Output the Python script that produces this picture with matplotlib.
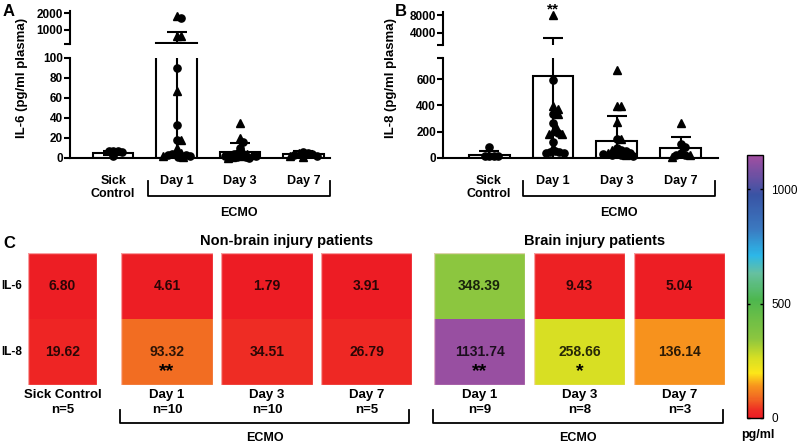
import matplotlib.pyplot as plt
import numpy as np
from matplotlib.colors import LinearSegmentedColormap, Normalize
from matplotlib.cm import ScalarMappable
from matplotlib.lines import Line2D
from matplotlib.patches import Rectangle

plt.rcParams['font.family'] = ['Liberation Sans', 'DejaVu Sans']
plt.rcParams['font.weight'] = 'bold'

# ---- data -------------------------------------------------------------
groups = ['Sick\nControl', 'Day 1', 'Day 3', 'Day 7']

# panel A, IL-6 (pg/ml plasma); circles = non-brain injury, triangles = brain injury
il6_mean = [5.5, 235, 6, 4]
il6_sd = [2, 645, 9, 3]
il6_circles = [[7, 7, 2, 6, 7],
               [1700, 90, 33, 18, 5, 4, 3, 3, 2, 1],
               [16, 10, 5, 4, 3, 2, 2, 1, 1, 0.5],
               [6, 5, 4, 3, 2]]
il6_triangles = [[],
                 [1800, 650, 650, 67, 18, 10, 5, 2, 1],
                 [35, 20, 6, 4, 3, 2, 1, 0.5],
                 [5, 2, 1]]

# panel B, IL-8 (pg/ml plasma)
il8_mean = [25, 625, 132, 76]
il8_sd = [30, 2275, 188, 86]
il8_circles = [[80, 15, 12, 15, 12],
               [590, 335, 264, 187, 125, 45, 40, 45, 50, 40],
               [145, 76, 60, 50, 40, 35, 30, 25, 20, 15],
               [106, 81, 35, 25, 20]]
il8_triangles = [[],
                 [8000, 392, 376, 335, 238, 202, 179, 179, 84],
                 [670, 395, 395, 276, 145, 60, 40, 20],
                 [268, 20, 10]]

# panel C, mean pg/ml
c_labels = ['Sick Control', 'Day 1', 'Day 3', 'Day 7', 'Day 1', 'Day 3', 'Day 7']
c_n = [5, 10, 10, 5, 9, 8, 3]
c_il6 = [6.80, 4.61, 1.79, 3.91, 348.39, 9.43, 5.04]
c_il8 = [19.62, 93.32, 34.51, 26.79, 1131.74, 258.66, 136.14]
c_il8_sig = ['', '**', '', '', '**', '*', '']

W, H = 800, 445
fig = plt.figure(figsize=(W / 100, H / 100), dpi=100)


def rect(l, t, r, b):
    return [l / W, 1 - b / H, (r - l) / W, (b - t) / H]


def fig_line(xs, ys, lw=1.3):
    fig.add_artist(Line2D([x / W for x in xs], [1 - y / H for y in ys],
                          transform=fig.transFigure, color='black', lw=lw))


def swarm(ax, xc, ys, step=1.5, mind=4.5, maxoff=17):
    # simple beeswarm in pixel space, overlap allowed once the bar width is used up
    pts = ax.transData.transform(np.column_stack([np.full(len(ys), xc), ys]))
    placed = []
    offs = [0.0]
    k = 1
    while k * step <= maxoff:
        offs += [k * step, -k * step]
        k += 1
    for px, py in pts:
        best, bestd = px, -1
        for off in offs:
            cand = px + off
            d = min([np.hypot(cand - qx, py - qy) for qx, qy in placed] or [99])
            if d >= mind:
                best = cand
                break
            if d > bestd:
                best, bestd = cand, d
        placed.append((best, py))
    return ax.transData.inverted().transform(np.array(placed))[:, 0]


def bar_panel(lo_rect, hi_rect, lo_lim, hi_lim, lo_ticks, hi_ticks, xlim,
              means, sds, circles, triangles, ylabel, ylabel_x):
    lo = fig.add_axes(rect(*lo_rect))
    hi = fig.add_axes(rect(*hi_rect))
    x = np.arange(len(groups))
    for ax, lim in ((lo, lo_lim), (hi, hi_lim)):
        ax.bar(x, means, width=0.64, color='white', edgecolor='black', lw=1.5, zorder=1)
        ax.errorbar(x, means, yerr=sds, fmt='none', ecolor='black', elinewidth=1.5,
                    capsize=7, capthick=1.5, zorder=2)
        ax.set_xlim(*xlim)
        ax.set_ylim(*lim)
        for s in ('top', 'right'):
            ax.spines[s].set_visible(False)
        ax.spines['left'].set_linewidth(1.5)
        ax.spines['bottom'].set_linewidth(1.5)
        ax.tick_params(axis='y', width=1.5, length=4, labelsize=8.5, pad=1)
    hi.spines['bottom'].set_visible(False)
    hi.set_xticks([])
    lo.set_yticks(lo_ticks)
    hi.set_yticks(hi_ticks)
    hi.set_yticks([hi_lim[0]], minor=True)
    lo.set_yticks([lo_lim[1]], minor=True)
    for ax in (lo, hi):
        ax.tick_params(axis='y', which='minor', width=1.5, length=4)
    lo.set_xticks(x)
    lo.set_xticklabels(groups, fontsize=9, linespacing=1.15)
    lo.tick_params(axis='x', length=0, pad=12)

    split = lo_lim[1]
    for i in range(len(groups)):
        vals = [(v, 'o') for v in circles[i]] + [(v, '^') for v in triangles[i]]
        vals.sort(key=lambda t: -t[0])
        for ax, sel in ((lo, [t for t in vals if t[0] <= split]),
                        (hi, [t for t in vals if t[0] > split])):
            if not sel:
                continue
            ys = [t[0] for t in sel]
            xs = swarm(ax, i, ys)
            for xx, (yy, m) in zip(xs, sel):
                ax.plot(xx, yy, marker=m, color='black', ms=5.2, ls='none',
                        clip_on=False, zorder=3)
    fig.text(ylabel_x / W, 1 - 78 / H, ylabel, rotation=90, ha='center', va='center',
             fontsize=9.5)
    return lo, hi


loA, hiA = bar_panel((70, 58, 330, 158), (70, 11, 330, 44), (0, 100), (176, 2118),
                     [0, 20, 40, 60, 80, 100], [1000, 2000], (-0.68, 3.42),
                     il6_mean, il6_sd, il6_circles, il6_triangles,
                     'IL-6 (pg/ml plasma)', 22)
loB, hiB = bar_panel((443, 58, 718, 158), (443, 12, 718, 45), (0, 760), (1333, 8667),
                     [0, 200, 400, 600], [4000, 8000], (-0.72, 3.58),
                     il8_mean, il8_sd, il8_circles, il8_triangles,
                     'IL-8 (pg/ml plasma)', 391)
hiB.text(1, 0.97, '**', transform=hiB.get_xaxis_transform(), ha='center',
         va='baseline', fontsize=11)

# ECMO brackets for A and B
for ax, x0, x1 in ((loA, 0.55, 3.42), (loB, 0.53, 3.53)):
    tr = ax.get_xaxis_transform()
    ax.plot([x0, x0, x1, x1], [-0.23, -0.38, -0.38, -0.23], color='black', lw=1.3,
            transform=tr, clip_on=False)
    ax.text((x0 + x1) / 2, -0.55, 'ECMO', transform=tr, ha='center', va='center',
            fontsize=9)

fig.text(9 / W, 1 - 12 / H, 'A', fontsize=12, ha='center', va='center')
fig.text(401 / W, 1 - 11 / H, 'B', fontsize=12, ha='center', va='center')
fig.text(9 / W, 1 - 244 / H, 'C', fontsize=12, ha='center', va='center')

# ---- panel C heat map ------------------------------------------------
cmap = LinearSegmentedColormap.from_list('pgml', [
    (0.00, '#ed1c24'), (0.03, '#ee2e24'), (0.08, '#f26f22'), (0.12, '#f7941d'),
    (0.17, '#fde619'), (0.225, '#d7df23'), (0.30, '#8dc63f'), (0.45, '#4db74e'),
    (0.55, '#66c0a0'), (0.62, '#2cb7e8'), (0.72, '#3b79c0'), (0.85, '#3953a4'),
    (1.00, '#a34ea1')])
norm = Normalize(0, 1150)

box_left = [28, 121, 221, 321, 434, 534, 634]
box_w = [69, 92, 92, 91, 91, 91, 91]
box_top, box_bot = 253, 385
for i in range(len(c_labels)):
    ax = fig.add_axes(rect(box_left[i], box_top, box_left[i] + box_w[i], box_bot))
    vals = np.array([[c_il6[i]], [c_il8[i]]])
    ax.pcolormesh(vals, cmap=cmap, norm=norm, linewidth=0)
    ax.add_patch(Rectangle((0, 0), 1, 2, fill=False, edgecolor=(1, 0.85, 0.85, 0.7), lw=1))
    ax.set_ylim(2, 0)
    ax.axis('off')
    for r, v in enumerate((c_il6[i], c_il8[i])):
        tc = np.array(cmap(norm(v))[:3]) * 0.18
        ax.text(0.5, r + 0.5, f'{v:.2f}', ha='center', va='center', fontsize=10,
                color=tc)
    if c_il8_sig[i]:
        ax.text(0.5, 1.8, c_il8_sig[i], ha='center', va='center', fontsize=14,
                color='black')
    cx = (box_left[i] + box_w[i] / 2) / W
    fig.text(cx, 1 - 395 / H, c_labels[i], ha='center', va='center', fontsize=9.5)
    fig.text(cx, 1 - 410 / H, f'n={c_n[i]}', ha='center', va='center', fontsize=9.5)

fig.text(1 / W, 1 - 286 / H, 'IL-6', ha='left', va='center', fontsize=8.5)
fig.text(1 / W, 1 - 352 / H, 'IL-8', ha='left', va='center', fontsize=8.5)
fig.text(287 / W, 1 - 241 / H, 'Non-brain injury patients', ha='center', va='center',
         fontsize=10.5)
fig.text(595 / W, 1 - 241 / H, 'Brain injury patients', ha='center', va='center',
         fontsize=10.5)

for x0, x1 in ((120, 409), (433, 723)):
    fig_line([x0, x0, x1, x1], [410, 423, 423, 410])
    fig.text((x0 + x1) / 2 / W, 1 - 438 / H, 'ECMO', ha='center', va='center', fontsize=9)

cax = fig.add_axes(rect(747, 155, 763, 418))
cb = fig.colorbar(ScalarMappable(norm=norm, cmap=cmap), cax=cax, ticks=[0, 500, 1000])
cb.outline.set_linewidth(1)
cax.tick_params(direction='in', left=True, right=True, length=2, width=1,
                labelsize=8.5, pad=6)
for t in cax.get_yticklabels():
    t.set_fontweight('normal')
fig.text(758 / W, 1 - 435 / H, 'pg/ml', ha='center', va='center', fontsize=9)

fig.savefig('out.png', dpi=100)
